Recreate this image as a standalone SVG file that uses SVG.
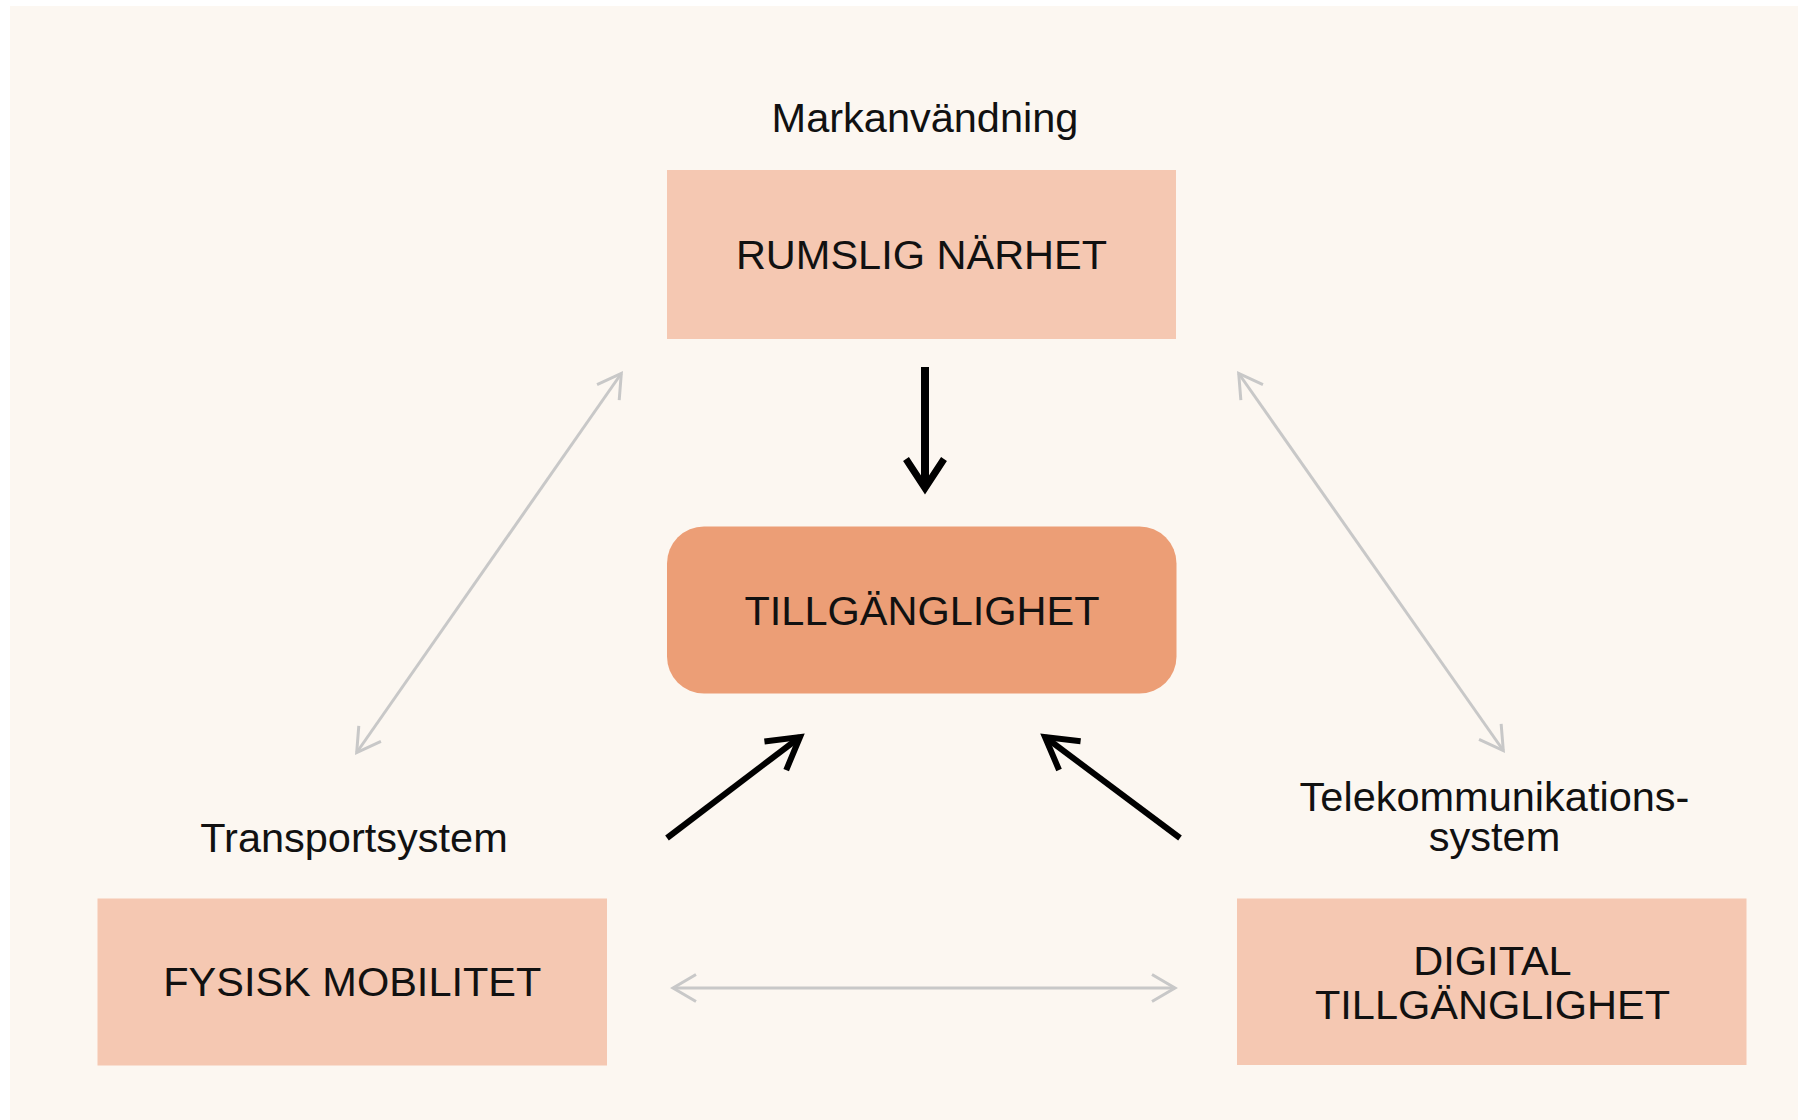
<svg xmlns="http://www.w3.org/2000/svg" width="1806" height="1120" viewBox="0 0 1806 1120">
  <style>
    .lbl { font-family: "Liberation Sans", Arial, sans-serif; font-size: 41.5px; fill: #111111; text-anchor: middle; }
    .box { fill: #f5c8b2; }
    .core { fill: #ec9e76; }
    .blk { stroke: #000000; stroke-width: 6; fill: none; }
    .blk-thick { stroke: #000000; stroke-width: 8; fill: none; }
    .gry { stroke: #c8c8c8; stroke-width: 3; fill: none; }
  </style>
  <defs>
    <marker id="ah-black" markerUnits="userSpaceOnUse" orient="auto-start-reverse" refX="0" refY="0" markerWidth="1" markerHeight="1" style="overflow:visible">
      <path d="M-31,-18 L0,0 L-31,18" fill="none" stroke="#000000" stroke-width="6"/>
    </marker>
    <marker id="ah-black-thick" markerUnits="userSpaceOnUse" orient="auto-start-reverse" refX="0" refY="0" markerWidth="1" markerHeight="1" style="overflow:visible">
      <path d="M-29,-19 L0,0 L-29,19" fill="none" stroke="#000000" stroke-width="7"/>
    </marker>
    <marker id="ah-gray" markerUnits="userSpaceOnUse" orient="auto-start-reverse" refX="0" refY="0" markerWidth="1" markerHeight="1" style="overflow:visible">
      <path d="M-23,-13.5 L0,0 L-23,13.5" fill="none" stroke="#c8c8c8" stroke-width="3"/>
    </marker>
  </defs>

  <rect x="0" y="0" width="1806" height="1120" fill="#ffffff"/>
  <rect x="10" y="6" width="1788" height="1114" fill="#fcf7f1"/>

  <g id="connectors">
    <line class="blk-thick" x1="925" y1="367" x2="925" y2="488" marker-end="url(#ah-black-thick)"/>
    <line class="blk" x1="667" y1="838" x2="800" y2="737" marker-end="url(#ah-black)"/>
    <line class="blk" x1="1180" y1="838" x2="1045" y2="737" marker-end="url(#ah-black)"/>
    <line class="gry" x1="621.3" y1="373.5" x2="356.7" y2="752.5" marker-start="url(#ah-gray)" marker-end="url(#ah-gray)"/>
    <line class="gry" x1="1238.7" y1="373.5" x2="1503.3" y2="750.5" marker-start="url(#ah-gray)" marker-end="url(#ah-gray)"/>
    <line class="gry" x1="673" y1="988" x2="1175" y2="988" marker-start="url(#ah-gray)" marker-end="url(#ah-gray)"/>
  </g>

  <g id="label-markanvandning">
    <text class="lbl" x="925" y="131.5">Markanvändning</text>
  </g>
  <g id="node-rumslig-narhet">
    <rect class="box" x="667" y="170" width="509" height="169"/>
    <text class="lbl" x="921.5" y="268.5">RUMSLIG NÄRHET</text>
  </g>

  <g id="node-tillganglighet">
    <rect class="core" x="667" y="526.5" width="509.5" height="167" rx="37" ry="37"/>
    <text class="lbl" x="922" y="625">TILLGÄNGLIGHET</text>
  </g>

  <g id="label-transportsystem">
    <text class="lbl" x="354" y="851.5">Transportsystem</text>
  </g>
  <g id="node-fysisk-mobilitet">
    <rect class="box" x="97.5" y="898.5" width="509.5" height="167"/>
    <text class="lbl" x="352.3" y="996">FYSISK MOBILITET</text>
  </g>

  <g id="label-telekommunikationssystem">
    <text class="lbl" x="1494.5" y="810.5">Telekommunikations-</text>
    <text class="lbl" x="1494.5" y="850.5">system</text>
  </g>
  <g id="node-digital-tillganglighet">
    <rect class="box" x="1237" y="898.5" width="509.5" height="166.5"/>
    <text class="lbl" x="1492.5" y="974.5">DIGITAL</text>
    <text class="lbl" x="1492.5" y="1018.5">TILLGÄNGLIGHET</text>
  </g>
</svg>
